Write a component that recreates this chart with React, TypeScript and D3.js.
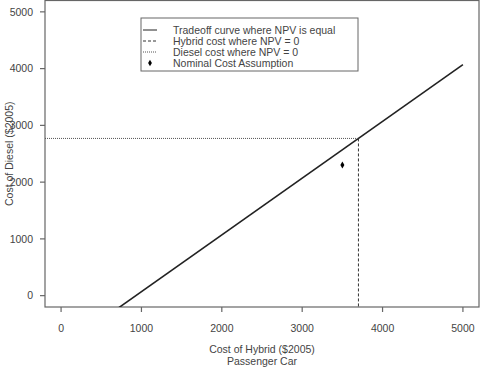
import React from "react";
import * as d3 from "d3";

const xTicks = [0, 1000, 2000, 3000, 4000, 5000];
const yTicks = [0, 1000, 2000, 3000, 4000, 5000];
const tradeoffX = [0, 5000];
const tradeoffY = [-930, 4070];
const breakEvenHybrid = 3700;
const breakEvenDiesel = 2770;
const nominalX = [3500];
const nominalY = [2300];
const legendLabels = [
  "Tradeoff curve where NPV is equal",
  "Hybrid cost where NPV = 0",
  "Diesel cost where NPV = 0",
  "Nominal Cost Assumption",
];

const W = 480, H = 367;
const L = 45, R = 479, T = 0.5, B = 307;
const FONT = "'Liberation Sans', Arial, sans-serif";

export default function App() {
  const x = d3.scaleLinear().domain([-200, 5200]).range([L, R]);
  const y = d3.scaleLinear().domain([-200, 5200]).range([B, T]);
  const line = d3.line<number>().x((_, i) => x(tradeoffX[i])).y((d) => y(d));
  const axisCol = "#666";
  const textCol = "#444";
  const fs = 10.5;
  const legX = 141, legY = 18, legW = 217, legH = 53;
  return (
    <svg width={W} height={H} style={{ position: "absolute", left: 0, top: 0, background: "#fff" }} fontFamily={FONT}>
      <defs>
        <clipPath id="plot">
          <rect x={L} y={T} width={R - L} height={B - T} />
        </clipPath>
      </defs>
      <rect x={0} y={0} width={W} height={H} fill="#fff" />
      <rect x={L} y={T} width={R - L} height={B - T} fill="none" stroke={axisCol} strokeWidth={1.2} />
      {xTicks.map((t) => (
        <g key={"x" + t}>
          <line x1={x(t)} x2={x(t)} y1={B} y2={B + 5} stroke={axisCol} strokeWidth={1.2} />
          <text x={x(t)} y={B + 25} textAnchor="middle" fontSize={fs} fill={textCol}>{t}</text>
        </g>
      ))}
      {yTicks.map((t) => (
        <g key={"y" + t}>
          <line x1={L - 5} x2={L} y1={y(t)} y2={y(t)} stroke={axisCol} strokeWidth={1.2} />
          <text x={L - 12} y={y(t)} dy="0.35em" textAnchor="end" fontSize={fs} fill={textCol}>{t}</text>
        </g>
      ))}
      <text x={(L + R) / 2} y={353} textAnchor="middle" fontSize={fs} fill={textCol}>Cost of Hybrid ($2005)</text>
      <text x={(L + R) / 2} y={365} textAnchor="middle" fontSize={fs} fill={textCol}>Passenger Car</text>
      <text transform={`translate(13,${(T + B) / 2}) rotate(-90)`} textAnchor="middle" fontSize={fs} fill={textCol}>Cost of Diesel ($2005)</text>
      <g clipPath="url(#plot)">
        <path d={line(tradeoffY) || ""} fill="none" stroke="#222" strokeWidth={1.6} />
        <line x1={x(breakEvenHybrid)} x2={x(breakEvenHybrid)} y1={y(breakEvenDiesel)} y2={B} stroke="#333" strokeWidth={1} strokeDasharray="3,2" />
        <line x1={L} x2={x(breakEvenHybrid)} y1={y(breakEvenDiesel)} y2={y(breakEvenDiesel)} stroke="#555" strokeWidth={1} strokeDasharray="1,1" />
        {nominalX.map((v, i) => (
          <path key={i} d={d3.symbol(d3.symbolDiamond, 14)() || ""} transform={`translate(${x(v)},${y(nominalY[i])})`} fill="#000" />
        ))}
      </g>
      <rect x={legX} y={legY} width={legW} height={legH} fill="#fff" stroke={axisCol} strokeWidth={1} />
      {legendLabels.map((lab, i) => {
        const cy = legY + 12 + i * 11;
        return (
          <g key={lab}>
            {i === 0 && <line x1={143} x2={157} y1={cy} y2={cy} stroke="#222" strokeWidth={1} />}
            {i === 1 && <line x1={143} x2={157} y1={cy} y2={cy} stroke="#333" strokeWidth={1} strokeDasharray="3,2" />}
            {i === 2 && <line x1={143} x2={157} y1={cy} y2={cy} stroke="#555" strokeWidth={1} strokeDasharray="1,1" />}
            {i === 3 && <path d={d3.symbol(d3.symbolDiamond, 12)() || ""} transform={`translate(150,${cy})`} fill="#000" />}
            <text x={173} y={cy} dy="0.35em" fontSize={fs} fill={textCol}>{lab}</text>
          </g>
        );
      })}
    </svg>
  );
}
